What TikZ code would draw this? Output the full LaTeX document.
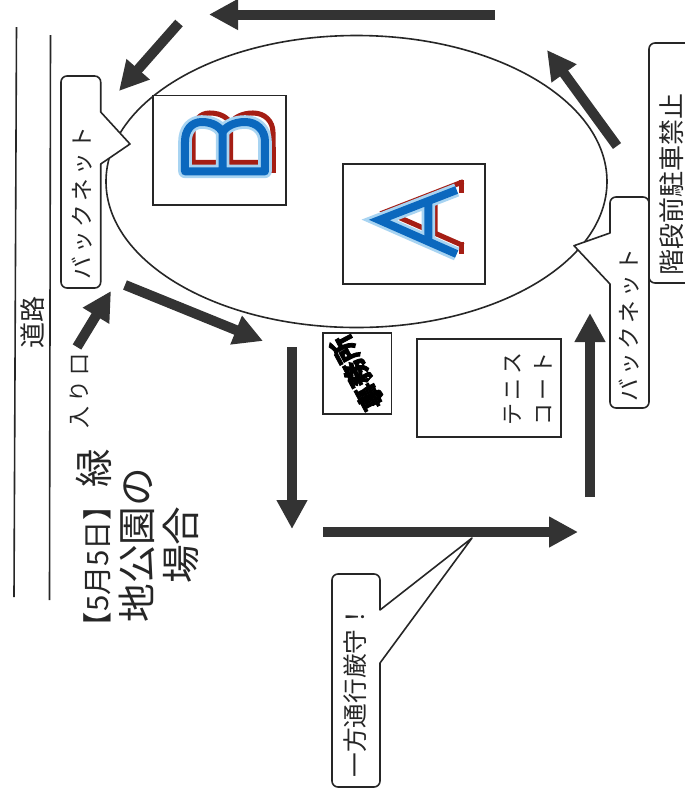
\documentclass[tikz,border=0pt]{standalone}
\usepackage{fontspec}
\setmainfont{Noto Sans CJK JP}
\newfontfamily\blobfont[FakeBold=3]{Noto Sans CJK JP}
\usetikzlibrary{arrows.meta}
\definecolor{arrowgrey}{HTML}{333333}
\definecolor{logoblue}{HTML}{0B68BE}
\definecolor{logolight}{HTML}{A8D4F2}
\definecolor{logored}{HTML}{A51E14}
\newcommand\spaced[1]{\addfontfeature{LetterSpace=#1}}
\newcommand\Bshape{(555,514) -- (795,514) -- (795,425) .. controls (795,390) and (770,366) .. (735,366) .. controls (700,366) and (675,382) .. (668,397) .. controls (660,382) and (640,366) .. (605,366) .. controls (575,366) and (555,390) .. (555,425) -- cycle (668,397) -- (668,514)}
\newcommand\Ashape{(350,570) -- (118,660) -- (350,762) (265,603) -- (265,724)}
\tikzset{
  x=0.75pt,y=-0.75pt,
  road/.style={line width=1.2pt,black!85},
  blockarrow/.style={line width=7.5pt,arrowgrey,-{Triangle[length=21.75pt,width=21.75pt]}},
  framebox/.style={draw=black!85,line width=1.2pt,fill=white},
  callout/.style={draw=black!85,line width=1.2pt,fill=white,line join=round},
  label/.style={rotate=90,inner sep=0pt,text=black!85,align=center},
  logoredline/.style={logored,line width=3.8pt,line join=miter},
  logohalo/.style={logolight,line width=10.2pt,line join=round},
  logostroke/.style={logoblue,line width=6pt,line join=round},
}
\begin{document}
\begin{tikzpicture}
\useasboundingbox (0,0) rectangle (685,794);
\fill[white] (0,0) rectangle (685,794);
% road
\coordinate (r1a) at (16.5,27); \coordinate (r1b) at (14,597);
\coordinate (r2a) at (50.5,35); \coordinate (r2b) at (49.5,600);
\draw[road] (r1a) -- (r1b);
\draw[road] (r2a) -- (r2b);
\node[label,font=\fontsize{19.5pt}{22pt}\selectfont] (roadtext) at (33,322) {道路};
% park
\draw[line width=1.2pt,black!85] (356.5,181.5) ellipse [x radius=250.5,y radius=146];
% boxes
\node[framebox,minimum width=99.75pt,minimum height=82pt,inner sep=0pt] (boxB) at (219.75,150.25) {};
\node[framebox,minimum width=106.75pt,minimum height=90pt,inner sep=0pt] (boxA) at (414,224) {};
\node[framebox,minimum width=51.5pt,minimum height=60.75pt,inner sep=0pt] (boxOffice) at (357.25,373.5) {};
\node[framebox,minimum width=108pt,minimum height=73.5pt,inner sep=0pt] (boxTennis) at (489,388) {};
% logo B
\begin{scope}[scale=0.33333]
  \begin{scope}[shift={(24,-27)}]
    \draw[logoredline] \Bshape;
  \end{scope}
  \draw[logoredline] (819,440) -- (819,519);
  \draw[logohalo] \Bshape;
  \draw[logostroke] \Bshape;
\end{scope}
% logo A
\begin{scope}[shift={(340,0)},scale=0.33333]
  \begin{scope}[shift={(20,-25)}]
    \draw[logoredline] \Ashape;
  \end{scope}
  \draw[logoredline] (364,540) -- (364,580);
  \draw[logoredline] (364,725) -- (364,763);
  \draw[logohalo,line join=miter] \Ashape;
  \draw[logostroke,line join=miter] \Ashape;
\end{scope}
% texts in boxes
\node[rotate=118,inner sep=0pt,text=black,font=\blobfont\bfseries\fontsize{20pt}{22pt}\selectfont] (office) at (357,373) {事務所};
\node[label,font=\fontsize{16.5pt}{23.3pt}\selectfont\spaced{15}] (tennis) at (528,389) {テニス\\コート};
% arrows
\coordinate (a1s) at (494.5,14.5); \coordinate (a1e) at (209,14.5);
\coordinate (a2s) at (179,23);     \coordinate (a2e) at (119,91);
\coordinate (a3s) at (77,347);     \coordinate (a3e) at (111,291);
\coordinate (a4s) at (125,285);    \coordinate (a4e) at (263,341);
\coordinate (a5s) at (292,347);    \coordinate (a5e) at (292,529);
\coordinate (a6s) at (323,532);    \coordinate (a6e) at (578,532);
\coordinate (a7s) at (590,497);    \coordinate (a7e) at (590,313);
\coordinate (a8s) at (617,146);    \coordinate (a8e) at (547,50);
\foreach \n in {1,...,8} \draw[blockarrow] (a\n s) -- (a\n e);
% callouts
\draw[callout] (100.7,112) [rounded corners=4.5pt] -- (100.7,76) -- (61,76) -- (61,288) -- (100.7,288) [sharp corners] -- (100.7,164) -- (130,144) -- cycle;
\node[label,font=\fontsize{17pt}{18pt}\selectfont\spaced{15}] (netL) at (82,203) {バックネット};
\draw[callout] (610,233) [rounded corners=4.5pt] -- (610,197) -- (649,197) -- (649,408) -- (610,408) [sharp corners] -- (610,284) -- (574,245.7) -- cycle;
\node[label,font=\fontsize{17pt}{18pt}\selectfont\spaced{15}] (netR) at (629,325) {バックネット};
\draw[callout] (380,610) [rounded corners=4.5pt] -- (380,574) -- (332,574) -- (332,787) -- (380,787) [sharp corners] -- (380,663) -- (472,538) -- cycle;
\node[label,font=\fontsize{18.5pt}{20pt}\selectfont] (oneway) at (355,691) {一方通行厳守！};
\draw[callout,rounded corners=4.5pt] (695,43) -- (649,43) -- (649,283) -- (695,283);
\node[label,font=\fontsize{19.5pt}{22pt}\selectfont] (nopark) at (672,184) {階段前駐車禁止};
% free labels
\node[label,font=\fontsize{16.5pt}{18pt}\selectfont\spaced{20}] (entrance) at (80,391) {入り口};
\node[label,font=\fontsize{29pt}{32.6pt}\selectfont] (title) at (137,545) {{\fontsize{22pt}{32.6pt}\selectfont【5月5日】}\hspace{3pt}緑\\地公園の\\場合};
\end{tikzpicture}
\end{document}
